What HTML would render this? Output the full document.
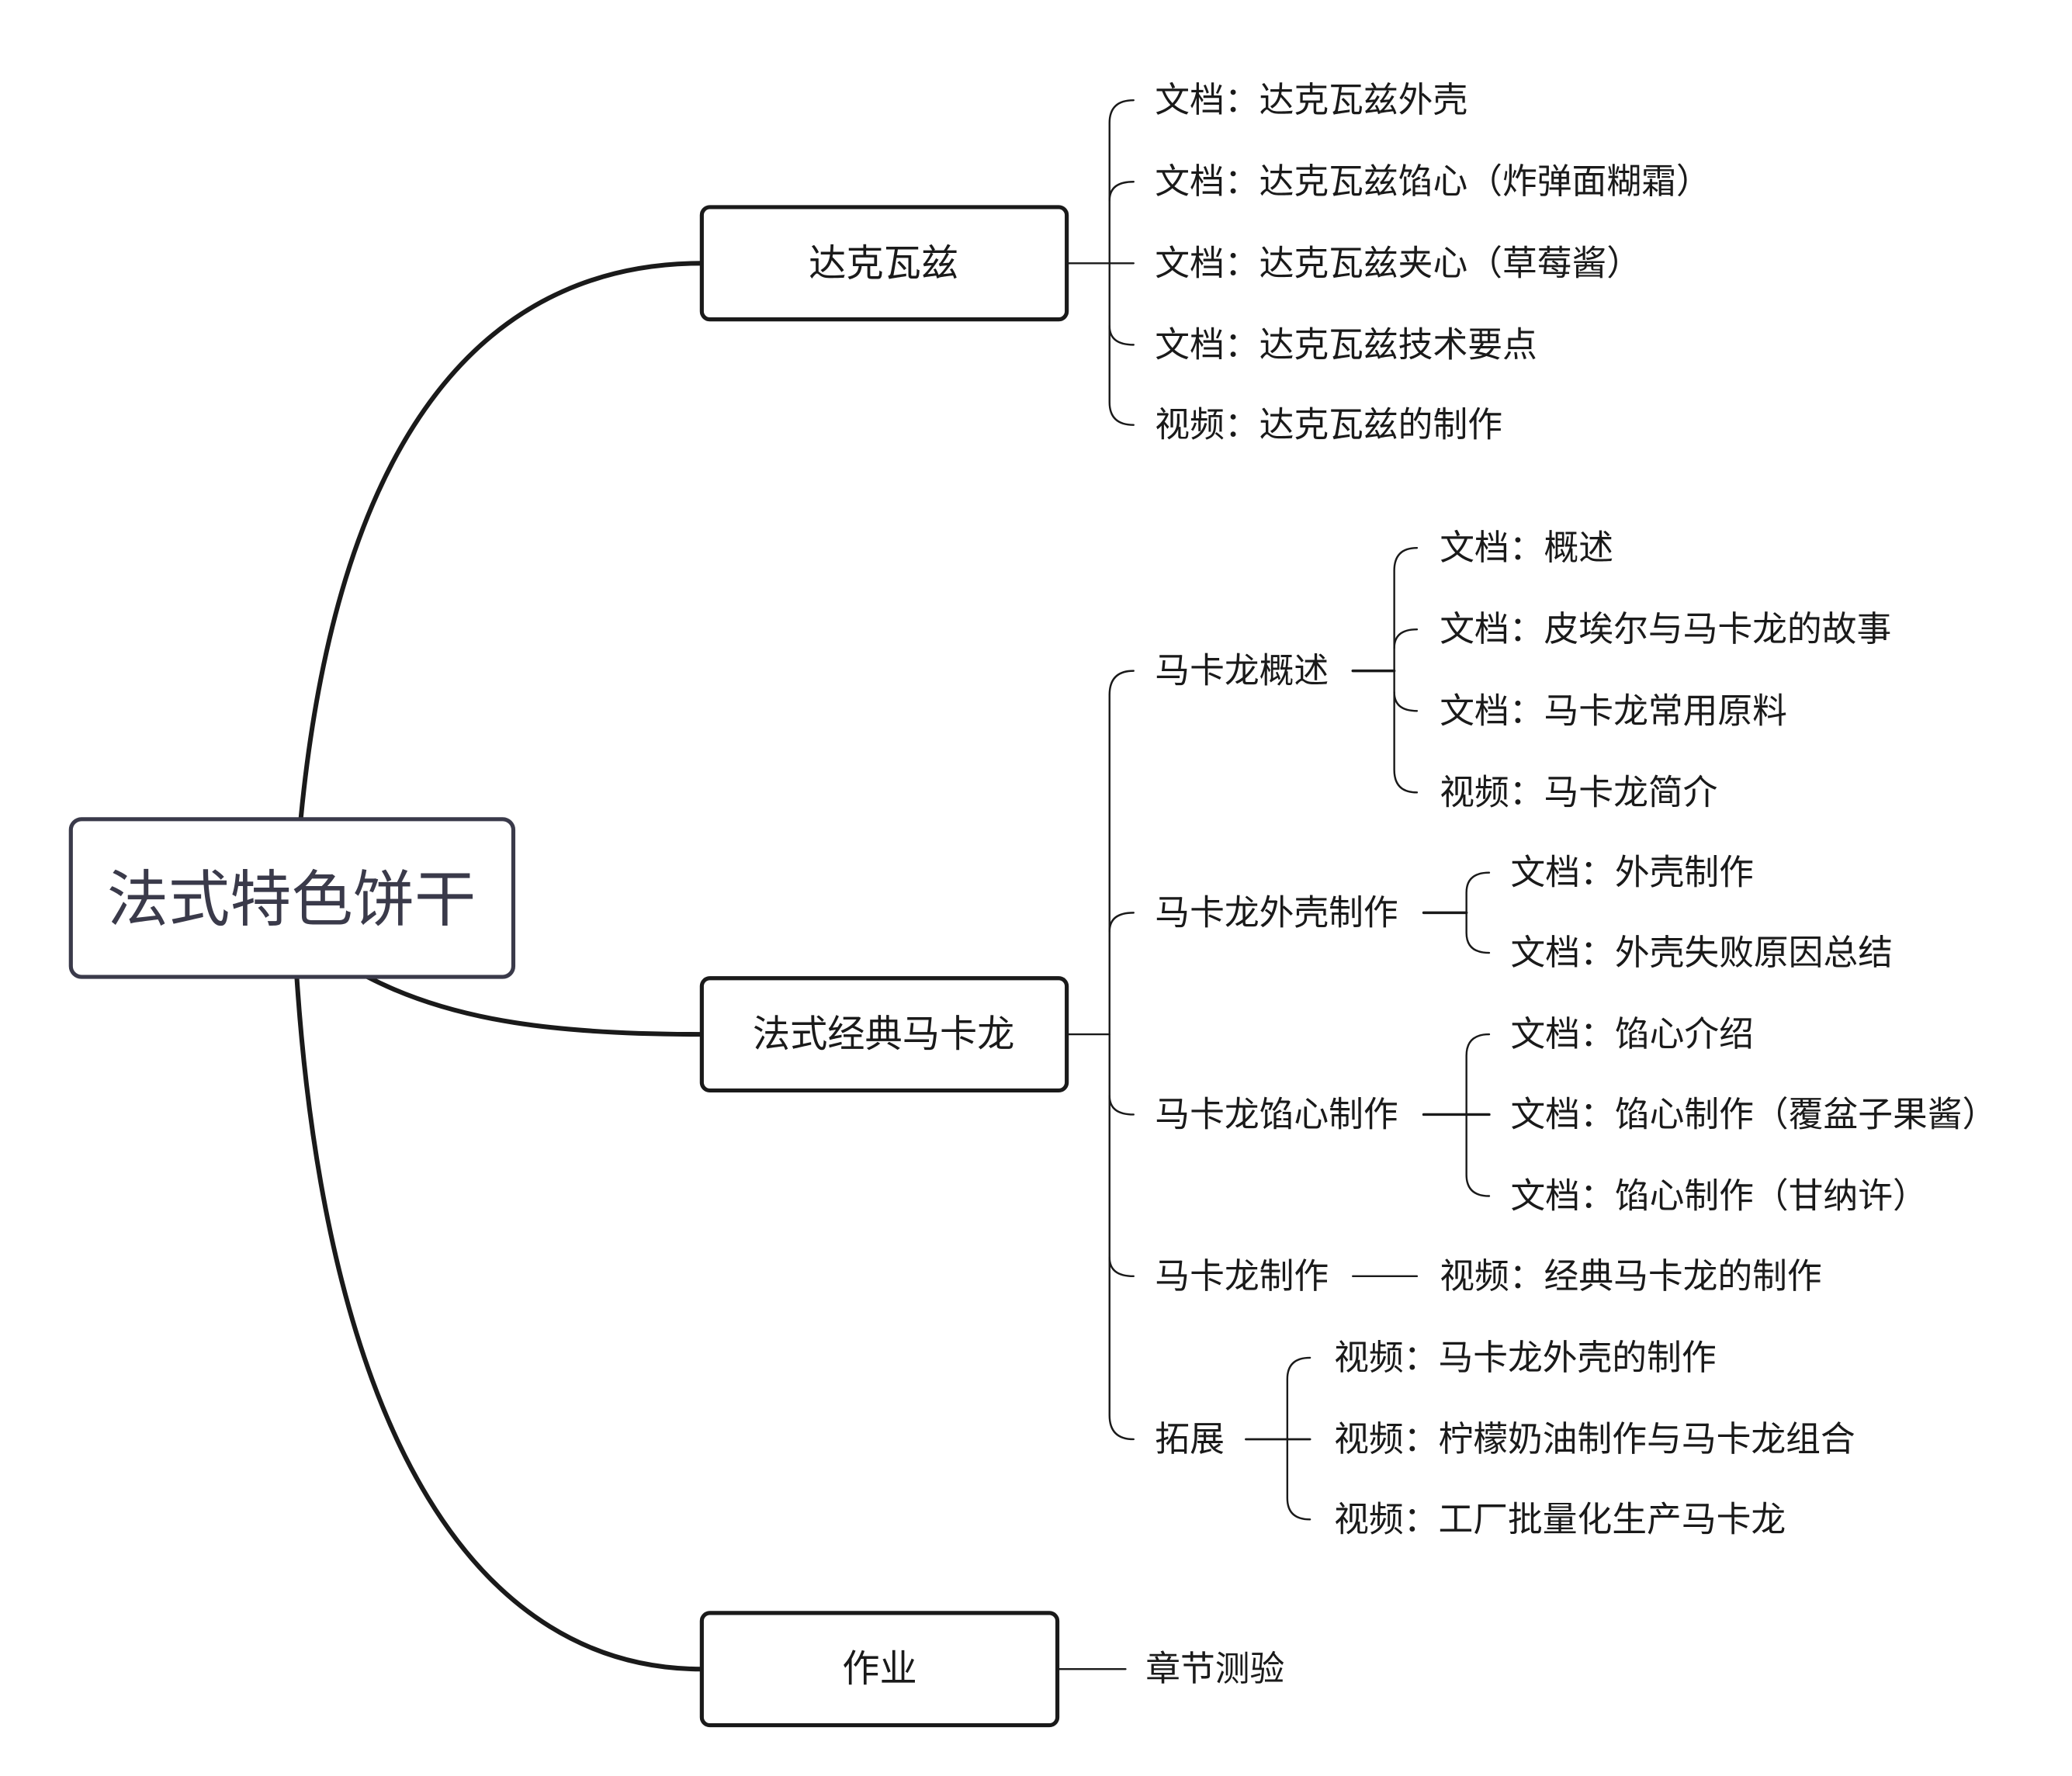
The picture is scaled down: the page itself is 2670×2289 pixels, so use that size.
<!DOCTYPE html>
<html><head><meta charset="utf-8"><style>
html,body{margin:0;padding:0;background:#fff;}
svg{display:block;}
text{font-family:"Liberation Sans","Noto Sans CJK SC",sans-serif;fill:#1a1a1a;dominant-baseline:central;}
</style></head><body>
<svg width="2670" height="2289" viewBox="0 0 1550 1329" preserveAspectRatio="none" xmlns="http://www.w3.org/2000/svg">
<g fill="none" stroke="#1a1a1a" stroke-linecap="round">
<path d="M225,613 C255,300 380,197 525,197" stroke-width="3.5"/>
<path d="M275,731 C340,765 420,774 525,774" stroke-width="3.5"/>
<path d="M222,731 C245,1080 360,1249 525,1249" stroke-width="3.5"/>
<g stroke-width="1.4">
<path d="M798,197 L848,197"/>
<path d="M848,75 Q830,75 830,92 L830,301 Q830,318 848,318"/>
<path d="M830,150 Q830,136 848,136"/>
<path d="M830,244 Q830,258 848,258"/>
<path d="M798,774 L830,774"/>
<path d="M848,502 Q830,502 830,520 L830,1059 Q830,1077 848,1077"/>
<path d="M830,697 Q830,683 848,683"/>
<path d="M830,820 Q830,834 848,834"/>
<path d="M830,941 Q830,955 848,955"/>
<path d="M1012,502 L1043,502" stroke-width="2"/>
<path d="M1060,410 Q1043,410 1043,427 L1043,576 Q1043,593 1060,593"/>
<path d="M1043,485 Q1043,471 1060,471"/>
<path d="M1043,518 Q1043,532 1060,532"/>
<path d="M1065,683 L1097,683" stroke-width="2"/>
<path d="M1114,653 Q1097,653 1097,668 L1097,698 Q1097,713 1114,713"/>
<path d="M1065,834 L1114,834" stroke-width="2"/>
<path d="M1114,774 Q1097,774 1097,790 L1097,879 Q1097,895 1114,895"/>
<path d="M1012,955 L1060,955"/>
<path d="M932,1077 L980,1077" stroke-width="1.6"/>
<path d="M980,1016 Q963,1016 963,1032 L963,1121 Q963,1137 980,1137"/>
<path d="M791,1249 L842,1249"/>
</g>
</g>
<rect x="53" y="613" width="331" height="118" rx="8" fill="#fff" stroke="#3a3a4a" stroke-width="3"/>
<text x="218" y="673" font-size="46" text-anchor="middle" style="fill:#3a3a4a">法式特色饼干</text>
<rect x="525" y="155" width="273" height="84" rx="6" fill="#fff" stroke="#1a1a1a" stroke-width="3"/>
<text x="661" y="197" font-size="28" text-anchor="middle">达克瓦兹</text>
<rect x="525" y="732" width="273" height="84" rx="6" fill="#fff" stroke="#1a1a1a" stroke-width="3"/>
<text x="661" y="774" font-size="28" text-anchor="middle">法式经典马卡龙</text>
<rect x="525" y="1207" width="266" height="84" rx="6" fill="#fff" stroke="#1a1a1a" stroke-width="3"/>
<text x="658" y="1249" font-size="28" text-anchor="middle">作业</text>
<g font-size="26">
<text x="864" y="75">文档：达克瓦兹外壳</text>
<text x="864" y="136">文档：达克瓦兹馅心（炸弹面糊霜）</text>
<text x="864" y="197">文档：达克瓦兹夹心（草莓酱）</text>
<text x="864" y="258">文档：达克瓦兹技术要点</text>
<text x="864" y="318">视频：达克瓦兹的制作</text>
<text x="864" y="502">马卡龙概述</text>
<text x="1077" y="410">文档：概述</text>
<text x="1077" y="471">文档：皮埃尔与马卡龙的故事</text>
<text x="1077" y="532">文档：马卡龙常用原料</text>
<text x="1077" y="593">视频：马卡龙简介</text>
<text x="864" y="683">马卡龙外壳制作</text>
<text x="1130" y="653">文档：外壳制作</text>
<text x="1130" y="713">文档：外壳失败原因总结</text>
<text x="864" y="834">马卡龙馅心制作</text>
<text x="1130" y="774">文档：馅心介绍</text>
<text x="1130" y="834">文档：馅心制作（覆盆子果酱）</text>
<text x="1130" y="895">文档：馅心制作（甘纳许）</text>
<text x="864" y="955">马卡龙制作</text>
<text x="1077" y="955">视频：经典马卡龙的制作</text>
<text x="864" y="1077">拓展</text>
<text x="998" y="1016">视频：马卡龙外壳的制作</text>
<text x="998" y="1077">视频：柠檬奶油制作与马卡龙组合</text>
<text x="998" y="1137">视频：工厂批量化生产马卡龙</text>
<text x="857" y="1249">章节测验</text>
</g>
</svg>
</body></html>
